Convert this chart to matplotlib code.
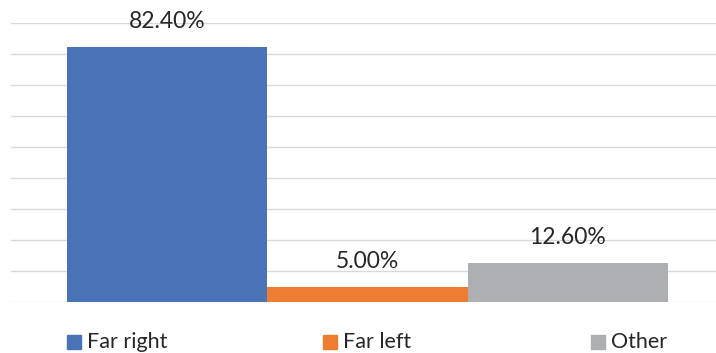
import matplotlib
matplotlib.use("Agg")
import matplotlib.pyplot as plt
from matplotlib.patches import Rectangle

series = ["Far right", "Far left", "Other"]
values = [82.4, 5.0, 12.6]
labels = ["82.40%", "5.00%", "12.60%"]
colors = ["#4A72B6", "#ED7D31", "#AEAFB2"]
y_ticks = [0, 10, 20, 30, 40, 50, 60, 70, 80, 90]

W, H = 716, 353
fig = plt.figure(figsize=(W / 100, H / 100), dpi=100)
plt.rcParams["font.family"] = ["Lato", "DejaVu Sans"]

ax_left = 11 / W
ax_bottom = 1 - 302.3 / H
ax_top = 1 - 23.3 / H
ax = fig.add_axes([ax_left, ax_bottom, 1 - ax_left, ax_top - ax_bottom])

xs = list(range(len(values)))
ax.bar(xs, values, width=1.0, color=colors, zorder=3)
ax.set_xlim(-0.7795, 2.7396)
ax.set_ylim(0, 90)
ax.set_yticks(y_ticks)
ax.yaxis.grid(True, color="#D9D9D9", linewidth=1.0, zorder=0)
ax.tick_params(left=False, bottom=False, labelleft=False, labelbottom=False)
for s in ax.spines.values():
    s.set_visible(False)

text_color = "#262626"
for x, v, lab in zip(xs, values, labels):
    ax.annotate(lab, (x, v), xytext=(0, 13.7), textcoords="offset points",
                ha="center", va="baseline", fontsize=16.5, color=text_color)

# legend
leg_x = [67, 323, 591]
for px, name, c in zip(leg_x, series, colors):
    fig.patches.append(Rectangle((px / W, 1 - 349 / H), 14 / W, 14 / H,
                                 transform=fig.transFigure, color=c))
    fig.text((px + 20) / W, 1 - 348.5 / H, name, ha="left", va="baseline",
             fontsize=15.5, color=text_color)

fig.savefig("out.png", dpi=100)
